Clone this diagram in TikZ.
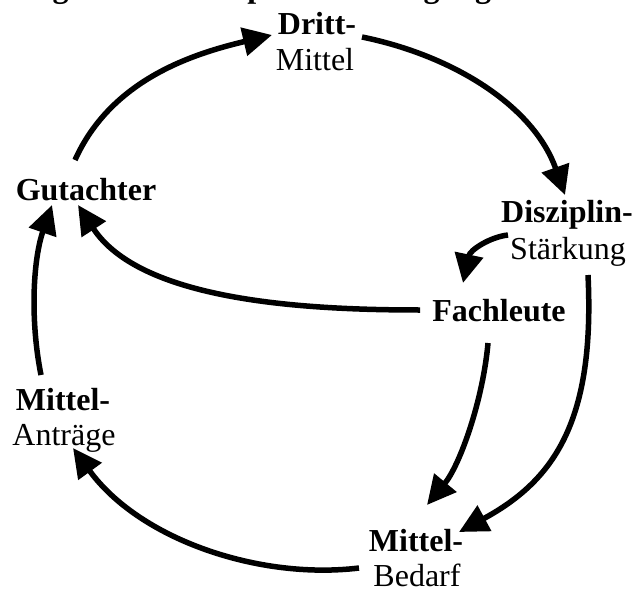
\documentclass[tikz,border=0pt]{standalone}
\usepackage{fontspec}
\setmainfont{Liberation Serif}
\usetikzlibrary{arrows.meta,calc}
\begin{document}
\begin{tikzpicture}[x=1pt,y=-1pt,
  lbl/.style={inner sep=0pt,anchor=base,font=\fontsize{32}{36}\selectfont},
  lblb/.style={lbl,font=\fontsize{32}{36}\selectfont\bfseries},
  conn/.style={line width=5.5pt,-{Triangle[length=29pt,width=28pt]}}]
\useasboundingbox (0,0) rectangle (634,591);
\clip (0,0) rectangle (634,591);
\node[lblb,anchor=base west] (title) at (15,-2.5) {Regelkreis: Disziplinen-Verengung};
\node[lblb] (dritt) at (317,35) {Dritt-};
\node[lbl] (drittb) at (315,71) {Mittel};
\node[lblb] (gut) at (86,200) {Gutachter};
\node[lblb] (diszi) at (567,222) {Disziplin-};
\node[lbl] (diszib) at (568,259) {Stärkung};
\node[lblb] (fach) at (499,321) {Fachleute};
\node[lblb] (ma) at (63,410) {Mittel-};
\node[lbl] (mab) at (64,445) {Anträge};
\node[lblb] (mb) at (416,551) {Mittel-};
\node[lbl] (mbb) at (417,586) {Bedarf};
% Gutachter -> Drittmittel
\draw[conn] ($(gut.base)+(-11,-40)$) .. controls +(36,-80) and +(-80,19) .. ($(dritt.base)+(-45,0)$);
% Drittmittel -> Disziplin-Staerkung
\draw[conn] ($(dritt.base)+(45,2)$) .. controls +(93,19) and +(-31,-88) .. ($(diszi.base)+(-2,-27)$);
% Disziplin-Staerkung -> Fachleute
\draw[conn] ($(diszib.base)+(-60,-24)$) .. controls +(-18,2) and +(7,-33) .. ($(fach.base)+(-36,-38)$);
% Fachleute -> Gutachter
\draw[conn] ($(fach.base)+(-79,-11)$) .. controls +(-120,0) and +(62,95) .. ($(gut.base)+(-8,5)$);
% Disziplin-Staerkung -> Mittel-Bedarf
\draw[conn] ($(diszib.base)+(20,16)$) .. controls +(7,145) and +(96,-52) .. ($(mb.base)+(43,-19)$);
% Fachleute -> Mittel-Bedarf
\draw[conn] ($(fach.base)+(-11,22)$) .. controls +(-5,57) and +(33,-40) .. ($(mb.base)+(11,-46)$);
% Mittel-Bedarf -> Mittel-Antraege
\draw[conn] ($(mbb.base)+(-58,-18)$) .. controls +(-99,12) and +(67,92) .. ($(mab.base)+(9,3)$);
% Mittel-Antraege -> Gutachter
\draw[conn] ($(ma.base)+(-22,-35)$) .. controls +(-11,-55) and +(-19,55) .. ($(gut.base)+(-34,5)$);
\end{tikzpicture}
\end{document}
